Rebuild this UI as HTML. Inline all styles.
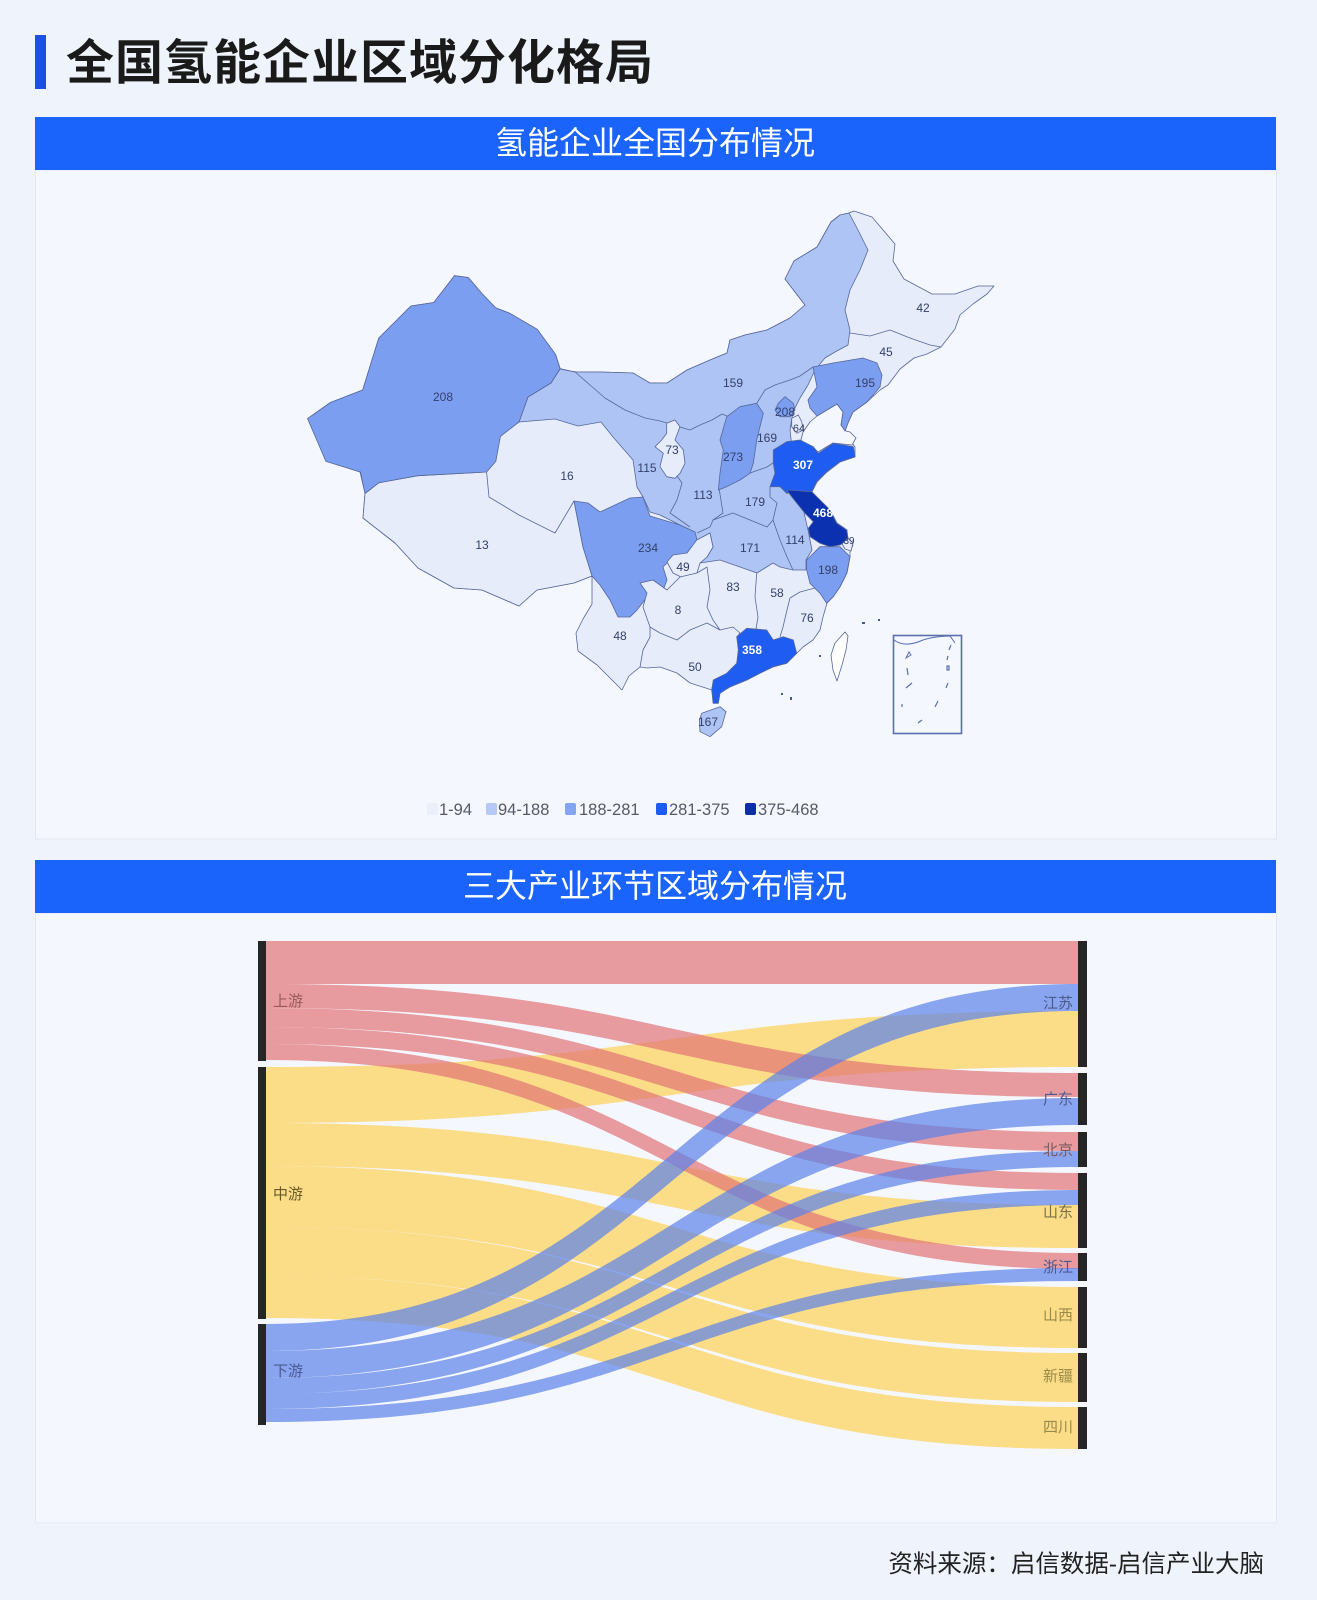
<!DOCTYPE html>
<html>
<head>
<meta charset="utf-8">
<style>
html,body{margin:0;padding:0;background:#eff4fc;}
svg{display:block;}
text{font-family:"Liberation Sans","Noto Sans CJK SC",sans-serif;}
</style>
</head>
<body>
<svg width="1317" height="1600" viewBox="0 0 1317 1600" xmlns="http://www.w3.org/2000/svg">
<rect x="0" y="0" width="1317" height="1600" fill="#eff4fc"/>

<!-- Header -->
<rect x="35" y="35" width="11" height="54" fill="#1f4ee6"/>
<text x="66" y="79" font-size="48" font-weight="bold" fill="#1a1a1a" letter-spacing="1">全国氢能企业区域分化格局</text>

<!-- Panel 1 -->
<rect x="35.5" y="170" width="1241" height="669" fill="#f4f7fd" stroke="#e2e8f2" stroke-width="1"/>
<rect x="35" y="117" width="1241" height="53" fill="#1b64fb"/>
<text x="655" y="154" font-size="32" fill="#ffffff" text-anchor="middle">氢能企业全国分布情况</text>

<!-- MAP -->
<g stroke="#56679a" stroke-width="0.8" stroke-linejoin="round">
<polygon fill="#e6ecf9" points="307.6,418.6 330.5,402.5 362.7,390 378.7,338.2 410.9,306 433.8,302.5 454.5,275.7 468.3,277.5 482,293.6 495.8,307.9 509.6,313.2 537.2,329.3 555.5,354.3 560.1,368.6 575,372 600,372 633,373 650,383 667,383 687,370 710,360 727,353 730,340 745,335 767,330 790,318 805,305 795,292 785,279 794,261 817,247 831,222 840,215 849,213 854,211 872,217 895,244 893,261 904,279 932,294 955,294 978,286 994,286 987,294 973,304 960,315 955,329 941,347 927,354 914,358 900,369 888,385 880,390 867,402 853,412 848,423 845,431 850,440 855,447 855,457 840,462 827,472 817,482 812,492 820,500 830,510 837,523 847,530 848,540 853,545 850,552 850,557 847,573 840,587 833,597 827,603 823,617 820,630 813,640 803,647 797,653 787,663 773,667 760,673 747,680 730,687 720,693 718,703 713,703 712,690 690,683 677,673 660,667 647,668 640,667 629,676 622,690 597,665 578,651 576,633 583,619 592,604 592,576 574,583 537,590 519,606 482,590 454,588 418,568 395,543 363,518 365,493 360,472 326,461 317,440"/>
<polygon fill="#aec4f4" points="560,369 575,372 600,372 633,373 650,383 667,383 687,370 710,360 727,353 730,340 745,335 767,330 790,318 805,305 795,292 785,279 794,261 817,247 831,222 840,215 849,213 858,230 868,250 860,270 850,290 845,310 850,330 848,345 835,352 825,358 815,370 808,385 800,398 793,412 790,430 792,448 795,470 800,495 808,530 812,550 806,560 806,570 793,570 780,567 773,563 757,573 740,567 720,560 700,563 707,557 713,547 710,533 697,540 690,530 680,525 660,515 650,512 643,497 637,487 633,460 613,437 601,422 578,426 555,419 519,422 528,397 551,383"/>
<g fill="none">
<polyline points="574,371 590,385 605,398 625,410 645,418 660,421 667,423"/>
<polyline points="680,427 690,430 700,425 712,420 722,414 727,416"/>
<polyline points="757,403 765,390 775,385 790,380 800,376 813,367"/>
<polyline points="677,476 682,483 677,500 670,513 680,520 690,527"/>
<polyline points="719,488 723,513 713,520 710,527 697,533"/>
<polyline points="713,520 733,513 750,520 767,527 773,520 777,503 770,497 770,487"/>
<polyline points="750,473 767,467 773,463"/>
<polyline points="773,520 780,540 787,557 793,570"/>
<polyline points="850,333 870,336 890,330 910,338 930,345 941,347"/>
</g>
<polygon fill="#e6ecf9" points="365,493.5 378.7,482.8 417.8,475.7 486.6,472 489,497 519,515 555,533 574,501 583,547 592,576 574,583 537,590 519,606 482,590 454,588 418,568 395,543 363,518"/>
<polygon fill="#7c9ef0" points="307.6,418.6 330.5,402.5 362.7,390 378.7,338.2 410.9,306 433.8,302.5 454.5,275.7 468.3,277.5 482,293.6 495.8,307.9 509.6,313.2 537.2,329.3 555.5,354.3 560.1,368.6 551,383 528,397 519,422 500.4,436.4 495.8,461.4 486.6,472 417.8,475.7 378.7,482.8 365,493.5 360.4,472 325.9,461.4 316.7,440"/>
<polygon fill="#7c9ef0" points="574,501 588,503 600,512 615,505 630,498 643,497 650,516 680,525 695,532 697,540 687,553 673,557 663,567 667,580 662,593 647,597 637,610 630,617 618,617 610,600 600,585 592,576 583,547"/>
<polygon fill="#e6ecf9" points="696.7,540 710,533 713,547 707,557 700,563 697,573 687,580 673,573 667,562 673,555 687,553"/>
<polygon fill="#e6ecf9" points="640,583 653,580 667,590 680,577 697,573 707,567 710,590 707,607 713,620 720,630 707,623 690,630 677,640 660,633 650,627 643,607 647,593"/>
<g fill="none">
<polyline points="640,667 643,650 650,637 650,627"/>
<polyline points="720,630 733,627 740,633 737,637"/>
<polyline points="756.7,573.3 755,597 758,617 756,629"/>
<polyline points="815,588 800,592 790,598 787,610 783,627 780,637"/>
</g>
<polygon fill="#e6ecf9" points="666.7,423.3 675,420 680,426.7 675,440 683.3,450 685,463.3 680,473.3 675,478.3 666.7,476.7 660,466.7 663.3,453.3 655,446.7 661.7,440 666.7,433.3"/>
<polygon fill="#7c9ef0" points="726.7,416.7 740,406.7 756.7,403.3 763.3,413.3 760,426.7 756.7,440 753.3,463.3 750,473.3 740,480 726.7,486.7 718.3,490 720,473.3 723.3,450 720,440"/>
<polygon fill="#f4f7fd" points="846,431 841,425 843,412 837,404 827,410 817,416 810,422 803,432 801,440 806,445 813,447 818,452 833,443 852,445 856,438 850,432"/>
<polygon fill="#7c9ef0" points="813,367 833,363 863,358 877,363 882,375 880,387 867,402 853,412 848,423 845,431 841,425 843,412 837,404 827,410 817,416 810,408 808,400 817,387"/>
<polygon fill="#7c9ef0" points="778.3,403.3 785,396.7 793.3,403.3 795,410 790,416.7 780,416.7 775,410"/>
<polygon fill="#e6ecf9" points="791.7,418.3 798.3,415 801.7,421.7 803.3,430 796.7,433.3 791.7,426.7"/>
<polygon fill="#1f5cf2" points="773.3,450 786.7,441.7 800,440 813.3,446.7 818.3,453.3 833.3,443.3 853.3,446.7 855,456.7 840,461.7 826.7,471.7 816.7,481.7 811.7,491.7 800,491.7 786.7,493.3 780,486.7 770,486.7 775,473.3 773.3,463.3"/>
<polygon fill="#0b30b0" points="786.7,490 811.7,491.7 820,500 830,510 836.7,523.3 846.7,530 848.3,540 840,545 830,546.7 820,543.3 810,536.7 808.3,528.3 813.3,521.7 805,513.3 798.3,505 791.7,496.7"/>
<polygon fill="#e6ecf9" points="848,538 853,543 851,551 845,549 842,544"/>
<polygon fill="#7c9ef0" points="806.7,560 820,546.7 840,546.7 850,556.7 846.7,573.3 840,586.7 833.3,596.7 826.7,603.3 820,593.3 810,583.3 806.7,570"/>
<polygon fill="#1f5cf2" points="736.7,636.7 746.7,628.3 766.7,630 773.3,640 783.3,636.7 793.3,640 796.7,653.3 786.7,663.3 773.3,666.7 760,673.3 746.7,680 730,686.7 720,693.3 718.3,703.3 713.3,703.3 711.7,690 713.3,680 726.7,673.3 736.7,663.3 738.3,650"/>
<polygon fill="#aec4f4" points="701.7,713.3 720,706.7 726,711.7 721.7,726.7 710,736.7 700,731.7 699.3,720"/>
<polygon fill="#ffffff" points="845,632 848,636 846,650 842,665 837,681 833,670 831,655 835,643"/>
</g>
<g fill="#4a5a88">
<rect x="862" y="622" width="3" height="2"/>
<rect x="878" y="619" width="2" height="2"/>
<rect x="819" y="655" width="2" height="2"/>
<rect x="781" y="693" width="2" height="2"/>
<rect x="790" y="697" width="2" height="3"/>
</g>
<g fill="none" stroke="#5a6fb0" stroke-width="1.2">
<rect x="893.5" y="635.5" width="68" height="98" stroke-width="1.6"/>
<path d="M894,640 C902,646 912,645 923,640 C932,637 944,636 950,636 L955,643" stroke-width="1"/>
<path d="M906,658 L909,652 L911,655 Z" stroke-width="1"/>
<path d="M907,668 L908,675"/>
<path d="M906,688 L912,683"/>
<path d="M902,704 L902,707"/>
<path d="M918,723 L922,720"/>
<path d="M951,645 L949,650"/>
<path d="M948,656 L947,660"/>
<rect x="947" y="666" width="2" height="4"/>
<path d="M948,683 L946,688"/>
<path d="M938,701 L935,707"/>
</g>
<g font-size="12" fill="#34406a" text-anchor="middle">
<text x="443" y="401">208</text>
<text x="567" y="480">16</text>
<text x="482" y="549">13</text>
<text x="733" y="387">159</text>
<text x="923" y="312">42</text>
<text x="886" y="356">45</text>
<text x="865" y="387">195</text>
<text x="785" y="416">208</text>
<text x="799" y="432" font-size="11">64</text>
<text x="767" y="442">169</text>
<text x="672" y="454">73</text>
<text x="647" y="472">115</text>
<text x="733" y="461">273</text>
<text x="703" y="499">113</text>
<text x="755" y="506">179</text>
<text x="795" y="544">114</text>
<text x="849" y="544" font-size="10">39</text>
<text x="648" y="552">234</text>
<text x="750" y="552">171</text>
<text x="683" y="571">49</text>
<text x="828" y="574">198</text>
<text x="733" y="591">83</text>
<text x="777" y="597">58</text>
<text x="678" y="614">8</text>
<text x="807" y="622">76</text>
<text x="620" y="640">48</text>
<text x="695" y="671">50</text>
<text x="708" y="726">167</text>
</g>
<g font-size="12" fill="#ffffff" text-anchor="middle" font-weight="bold">
<text x="803" y="469">307</text>
<text x="823" y="517">468</text>
<text x="752" y="654">358</text>
</g>
<g font-size="16.5" fill="#555a66">
<rect x="427" y="803" width="11" height="12" rx="2" fill="#eaeff9"/>
<text x="439" y="815">1-94</text>
<rect x="486" y="803" width="11" height="12" rx="2" fill="#b4c9f6"/>
<text x="498" y="815">94-188</text>
<rect x="565" y="803" width="11" height="12" rx="2" fill="#84a5ef"/>
<text x="579" y="815">188-281</text>
<rect x="656" y="803" width="11" height="12" rx="2" fill="#1d5cf0"/>
<text x="669" y="815">281-375</text>
<rect x="745" y="803" width="11" height="12" rx="2" fill="#0c2fa8"/>
<text x="758" y="815">375-468</text>
</g>

<!-- Panel 2 -->
<rect x="35.5" y="913" width="1241" height="610" fill="#f4f7fd" stroke="#e2e8f2" stroke-width="1"/>
<rect x="35" y="860" width="1241" height="53" fill="#1b64fb"/>
<text x="655" y="897" font-size="32" fill="#ffffff" text-anchor="middle">三大产业环节区域分布情况</text>

<g fill="#fdd35a" fill-opacity="0.72">
<path d="M266,1067 C672,1067 672,1011 1078,1011 L1078,1067 C672,1067 672,1123 266,1123 Z"/>
<path d="M266,1123 C672,1123 672,1205 1078,1205 L1078,1248 C672,1248 672,1166 266,1166 Z"/>
<path d="M266,1166 C672,1166 672,1287 1078,1287 L1078,1348 C672,1348 672,1227 266,1227 Z"/>
<path d="M266,1227 C672,1227 672,1353 1078,1353 L1078,1402 C672,1402 672,1276 266,1276 Z"/>
<path d="M266,1276 C672,1276 672,1407 1078,1407 L1078,1449 C672,1449 672,1318 266,1318 Z"/>
</g>
<g fill="#e27476" fill-opacity="0.7">
<path d="M266,941 C672,941 672,941 1078,941 L1078,984 C672,984 672,984 266,984 Z"/>
<path d="M266,984 C672,984 672,1073 1078,1073 L1078,1097 C672,1097 672,1008 266,1008 Z"/>
<path d="M266,1008 C672,1008 672,1132 1078,1132 L1078,1151 C672,1151 672,1027 266,1027 Z"/>
<path d="M266,1027 C672,1027 672,1173 1078,1173 L1078,1190 C672,1190 672,1044 266,1044 Z"/>
<path d="M266,1044 C672,1044 672,1253 1078,1253 L1078,1269 C672,1269 672,1060 266,1060 Z"/>
</g>
<g fill="#5b82ea" fill-opacity="0.7">
<path d="M266,1324 C672,1324 672,984 1078,984 L1078,1011 C672,1011 672,1351 266,1351 Z"/>
<path d="M266,1351 C672,1351 672,1098 1078,1098 L1078,1125 C672,1125 672,1378 266,1378 Z"/>
<path d="M266,1378 C672,1378 672,1151 1078,1151 L1078,1167 C672,1167 672,1394 266,1394 Z"/>
<path d="M266,1394 C672,1394 672,1190 1078,1190 L1078,1205 C672,1205 672,1409 266,1409 Z"/>
<path d="M266,1409 C672,1409 672,1268 1078,1268 L1078,1281 C672,1281 672,1422 266,1422 Z"/>
</g>
<g fill="#262626">
<rect x="258" y="941" width="8" height="120"/>
<rect x="258" y="1067" width="8" height="252"/>
<rect x="258" y="1324" width="8" height="101"/>
<rect x="1078" y="941" width="9" height="126"/>
<rect x="1078" y="1073" width="9" height="52"/>
<rect x="1078" y="1132" width="9" height="35"/>
<rect x="1078" y="1173" width="9" height="75"/>
<rect x="1078" y="1253" width="9" height="28"/>
<rect x="1078" y="1287" width="9" height="61"/>
<rect x="1078" y="1353" width="9" height="49"/>
<rect x="1078" y="1407" width="9" height="42"/>
</g>
<g font-size="15">
<text x="273" y="1006" fill="#9a5a58">上游</text>
<text x="273" y="1199" fill="#6a5a28">中游</text>
<text x="273" y="1376" fill="#4a5a92">下游</text>
</g>
<g font-size="15" text-anchor="end">
<text x="1073" y="1008" fill="#4a5a8a">江苏</text>
<text x="1073" y="1104" fill="#4a5a92">广东</text>
<text x="1073" y="1155" fill="#7a5a60">北京</text>
<text x="1073" y="1217" fill="#7a7048">山东</text>
<text x="1073" y="1272" fill="#4a5a92">浙江</text>
<text x="1073" y="1320" fill="#9a8a48">山西</text>
<text x="1073" y="1381" fill="#9a8a48">新疆</text>
<text x="1073" y="1432" fill="#9a8a48">四川</text>
</g>

<text x="1264" y="1572" font-size="24.5" fill="#222222" text-anchor="end">资料来源：启信数据-启信产业大脑</text>
</svg>
</body>
</html>
